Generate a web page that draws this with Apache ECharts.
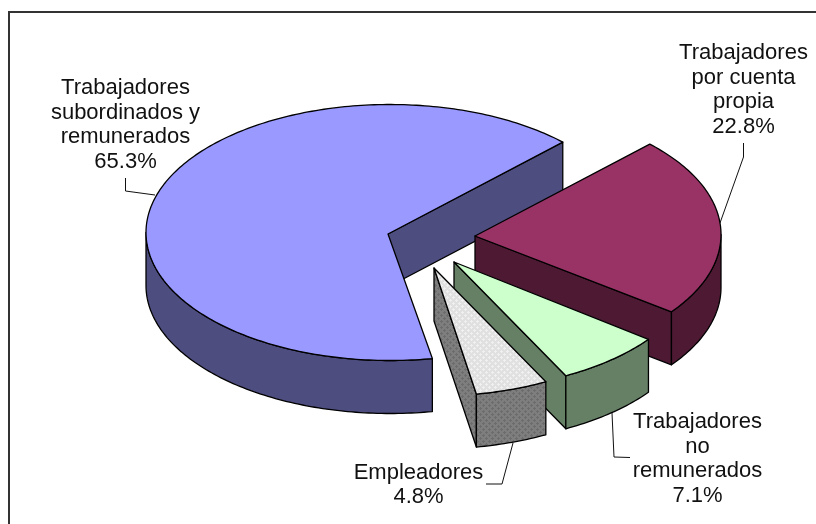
<!DOCTYPE html>
<html>
<head>
<meta charset="utf-8">
<style>html,body{margin:0;padding:0;background:#fff}#c{width:816px;height:524px}</style>
<script src="https://cdn.jsdelivr.net/npm/echarts@6/dist/echarts.min.js"></script>
</head>
<body>
<div id="c"></div>
<script>
// ---- data ----
const categories = ['Trabajadores\nsubordinados y\nremunerados', 'Trabajadores\npor cuenta\npropia', 'Trabajadores\nno\nremunerados', 'Empleadores'];
const shares = [65.3, 22.8, 7.1, 4.8];

// ---- layout and style ----
const START_BEARING = 170;            // clockwise from north
const RX = 244, RY = 128, DEPTH = 53;
const apexes = [[388, 234], [475, 236], [454, 262], [434, 268]];
const rimCentres = [[390, 232.5], [477, 234.5], [454, 262], [434, 268]];
const labelCentres = [[125.5, 125], [743.5, 90], [697.5, 459], [418.5, 485]];
const leaders = [
  [[125.5, 178], [125.5, 191], [155, 195]],
  [[743.5, 143], [743.5, 157], [720, 223]],
  [[612, 413], [614, 457], [630, 457.5]],
  [[513, 443], [502, 484], [486, 484]]
];

function patternCanvas(bg, fg) {
  const c = document.createElement('canvas');
  c.width = c.height = 6;
  const g = c.getContext('2d');
  g.fillStyle = bg; g.fillRect(0, 0, 6, 6);
  g.fillStyle = fg;
  [[0,0],[3,3],[1,0],[0,1],[4,3],[3,4],[5,0],[0,5],[2,3],[3,2]].forEach(p => g.fillRect(p[0], p[1], 1, 1));
  return { image: c, repeat: 'repeat' };
}
const topFills = ['#9999FF', '#993366', '#CCFFCC', patternCanvas('#E0E0E0', '#F0F0F0')];
const sideFills = ['#4D4D80', '#4D1933', '#668066', patternCanvas('#7E7E7E', '#6C6C6C')];

function pt(c, b, drop) {
  const r = b * Math.PI / 180;
  return [c[0] + RX * Math.sin(r), c[1] - RY * Math.cos(r) + (drop || 0)];
}
function arc(c, from, to, drop) {
  const out = [], n = Math.max(2, Math.ceil(Math.abs(to - from)));
  for (let i = 0; i <= n; i++) out.push(pt(c, from + (to - from) * i / n, drop));
  return out;
}

const total = shares.reduce((a, b) => a + b, 0);

function renderItem(params, api) {
  const i = params.dataIndex;
  let from = START_BEARING;
  for (let k = 0; k < i; k++) from += shares[k] / total * 360;
  from = from % 360;
  const to = from + api.value(0) / total * 360;
  const a = apexes[i], c = rimCentres[i];
  const edge = { stroke: '#000', lineWidth: 1.3, lineJoin: 'round' };
  const children = [];

  // cut face at the clockwise end of the slice
  const e0 = pt(c, to), e1 = pt(c, to, DEPTH);
  children.push({ type: 'polygon', shape: { points: [a, e0, e1, [a[0], a[1] + DEPTH]] },
    style: Object.assign({ fill: sideFills[i] }, edge) });

  // outer wall: only the part of the rim on the viewer's side (bearing 90..270)
  const lo = Math.max(from, 90), hi = Math.min(to, 270);
  if (hi > lo) {
    const pts = arc(c, lo, hi, 0).concat(arc(c, hi, lo, DEPTH));
    children.push({ type: 'polygon', shape: { points: pts },
      style: Object.assign({ fill: sideFills[i] }, edge) });
  }

  // top face
  children.push({ type: 'polygon', shape: { points: [a].concat(arc(c, from, to, 0)) },
    style: Object.assign({ fill: topFills[i] }, edge) });

  // leader line
  children.push({ type: 'polyline', shape: { points: leaders[i] },
    style: { stroke: '#111', lineWidth: 1, fill: null } });

  // label
  const lab = labelCentres[i];
  children.push({ type: 'text', x: lab[0], y: lab[1],
    style: {
      text: categories[i] + '\n' + api.value(0).toFixed(1) + '%',
      font: '22px "Liberation Sans", Arial, sans-serif',
      lineHeight: 24.7, fill: '#111', align: 'center', verticalAlign: 'middle'
    } });
  return { type: 'group', children };
}

const chart = echarts.init(document.getElementById('c'), null, { renderer: 'canvas', width: 816, height: 524 });
chart.setOption({
  animation: false,
  backgroundColor: '#fff',
  graphic: [{ type: 'polyline', z: -1, shape: { points: [[9, 524], [9, 12], [816, 12]] },
    style: { fill: null, stroke: '#333', lineWidth: 2 } }],
  series: [{
    type: 'custom',
    coordinateSystem: 'none',
    renderItem,
    data: shares.map((v, i) => ({ name: categories[i], value: [v] }))
  }]
});
</script>
</body>
</html>
